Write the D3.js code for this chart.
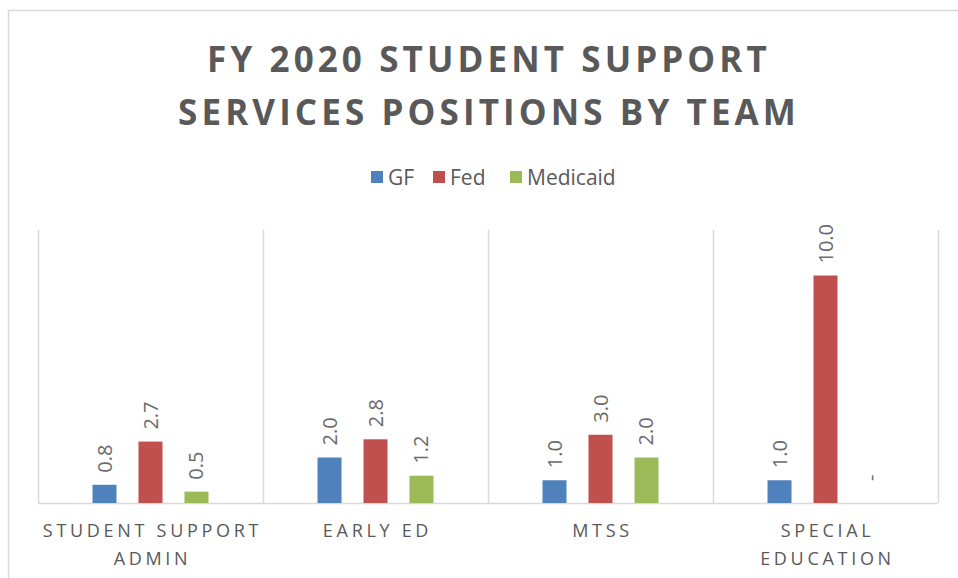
<!DOCTYPE html>
<html>
<head>
<meta charset="utf-8">
<script src="https://cdn.jsdelivr.net/npm/d3@7"></script>
<style>
  body { margin: 0; background: #fff; }
  svg text { font-family: "Open Sans", "Noto Sans", sans-serif; }
</style>
</head>
<body>
<div id="chart"></div>
<script>
(function(){
  'use strict';

  // data
  var teams = [["STUDENT SUPPORT", "ADMIN"], ["EARLY ED"], ["MTSS"], ["SPECIAL", "EDUCATION"]];
  var teamKeys = ["Student Support Admin", "Early Ed", "MTSS", "Special Education"];
  var seriesNames = ["GF", "Fed", "Medicaid"];
  var gf = [0.8, 2.0, 1.0, 1.0];
  var fed = [2.7, 2.8, 3.0, 10.0];
  var medicaid = [0.5, 1.2, 2.0, 0];
  var colors = ["#4f81bd", "#c0504d", "#9bbb59"];

  var values = [gf, fed, medicaid];

  var width = 958, height = 578;
  var plot = { left: 38, right: 938, top: 230, bottom: 503 };

  var svg = d3.select("#chart")
              .append("svg")
              .attr("width", width)
              .attr("height", height);

  // outer chart frame
  svg.append("rect")
    .attr("x", 8.5).attr("y", 10.5)
    .attr("width", 960).attr("height", 600)
    .attr("fill", "#fff")
    .attr("stroke", "#d9d9d9")
    .attr("stroke-width", 1.5);

  // title
  var title = svg.append("text")
    .attr("text-anchor", "middle")
    .attr("fill", "#595959")
    .style("font-size", "35px")
    .style("font-weight", "700")
    .style("letter-spacing", "4.1px");
  title.append("tspan").attr("x", 489).attr("y", 72).text("FY 2020 STUDENT SUPPORT");
  title.append("tspan").attr("x", 489).attr("y", 125).text("SERVICES POSITIONS BY TEAM");

  // legend
  var legendX = [371, 433, 510];
  var legend = svg.append("g");
  seriesNames.forEach(function(name, i){
    legend.append("rect")
      .attr("x", legendX[i]).attr("y", 171)
      .attr("width", 12).attr("height", 12)
      .attr("fill", colors[i]);
    legend.append("text")
      .attr("x", legendX[i] + 17).attr("y", 185)
      .attr("fill", "#595959")
      .style("font-size", "21px")
      .text(name);
  });

  var x0 = d3.scaleBand()
    .domain(teamKeys)
    .range([plot.left, plot.right]);

  var x1 = d3.scaleBand()
    .domain(seriesNames)
    .range([0, x0.bandwidth()])
    .paddingInner(0.478)
    .paddingOuter(1.185);

  var y = d3.scaleLinear()
    .domain([0, 12])
    .range([plot.bottom, plot.top]);

  // vertical separators between categories
  var seps = teamKeys.map(function(k){ return x0(k); }).concat([plot.right]);
  svg.append("g").selectAll("line")
    .data(seps)
    .enter().append("line")
    .attr("x1", function(d){ return d + 0.5; })
    .attr("x2", function(d){ return d + 0.5; })
    .attr("y1", plot.top)
    .attr("y2", plot.bottom)
    .attr("stroke", "#d9d9d9")
    .attr("stroke-width", 1.5);

  // baseline
  svg.append("line")
    .attr("x1", plot.left).attr("x2", plot.right)
    .attr("y1", plot.bottom + 0.5).attr("y2", plot.bottom + 0.5)
    .attr("stroke", "#d9d9d9")
    .attr("stroke-width", 1.5);

  // bars
  var groups = svg.append("g").selectAll("g")
    .data(teamKeys)
    .enter().append("g")
    .attr("transform", function(d){ return "translate(" + x0(d) + ",0)"; });

  var cells = groups.selectAll("g")
    .data(function(d, ti){
      return seriesNames.map(function(s, si){ return { s: s, si: si, v: values[si][ti] }; });
    })
    .enter().append("g");

  cells.append("rect")
    .attr("x", function(d){ return x1(d.s); })
    .attr("y", function(d){ return y(d.v); })
    .attr("width", x1.bandwidth())
    .attr("height", function(d){ return y(0) - y(d.v); })
    .attr("fill", function(d){ return colors[d.si]; });

  // rotated value labels ("-" for zero)
  cells.append("text")
    .attr("transform", function(d){
      var cx = x1(d.s) + x1.bandwidth() / 2 + 7;
      var cy = y(d.v) - (d.v === 0 ? 22 : 12);
      return "translate(" + cx + "," + cy + ") rotate(-90)";
    })
    .attr("fill", "#6b6b6b")
    .style("font-size", "20px")
    .text(function(d){ return d.v === 0 ? "-" : d.v.toFixed(1); });

  // category labels
  var cat = svg.append("g").selectAll("text")
    .data(teamKeys)
    .enter().append("text")
    .attr("text-anchor", "middle")
    .attr("fill", "#595959")
    .style("font-size", "18px")
    .style("letter-spacing", "3.7px");
  cat.each(function(d, i){
    var t = d3.select(this);
    teams[i].forEach(function(line, li){
      t.append("tspan")
        .attr("x", x0(d) + x0.bandwidth() / 2 + 2)
        .attr("y", 537 + li * 28)
        .text(line);
    });
  });

})();
</script>
</body>
</html>
